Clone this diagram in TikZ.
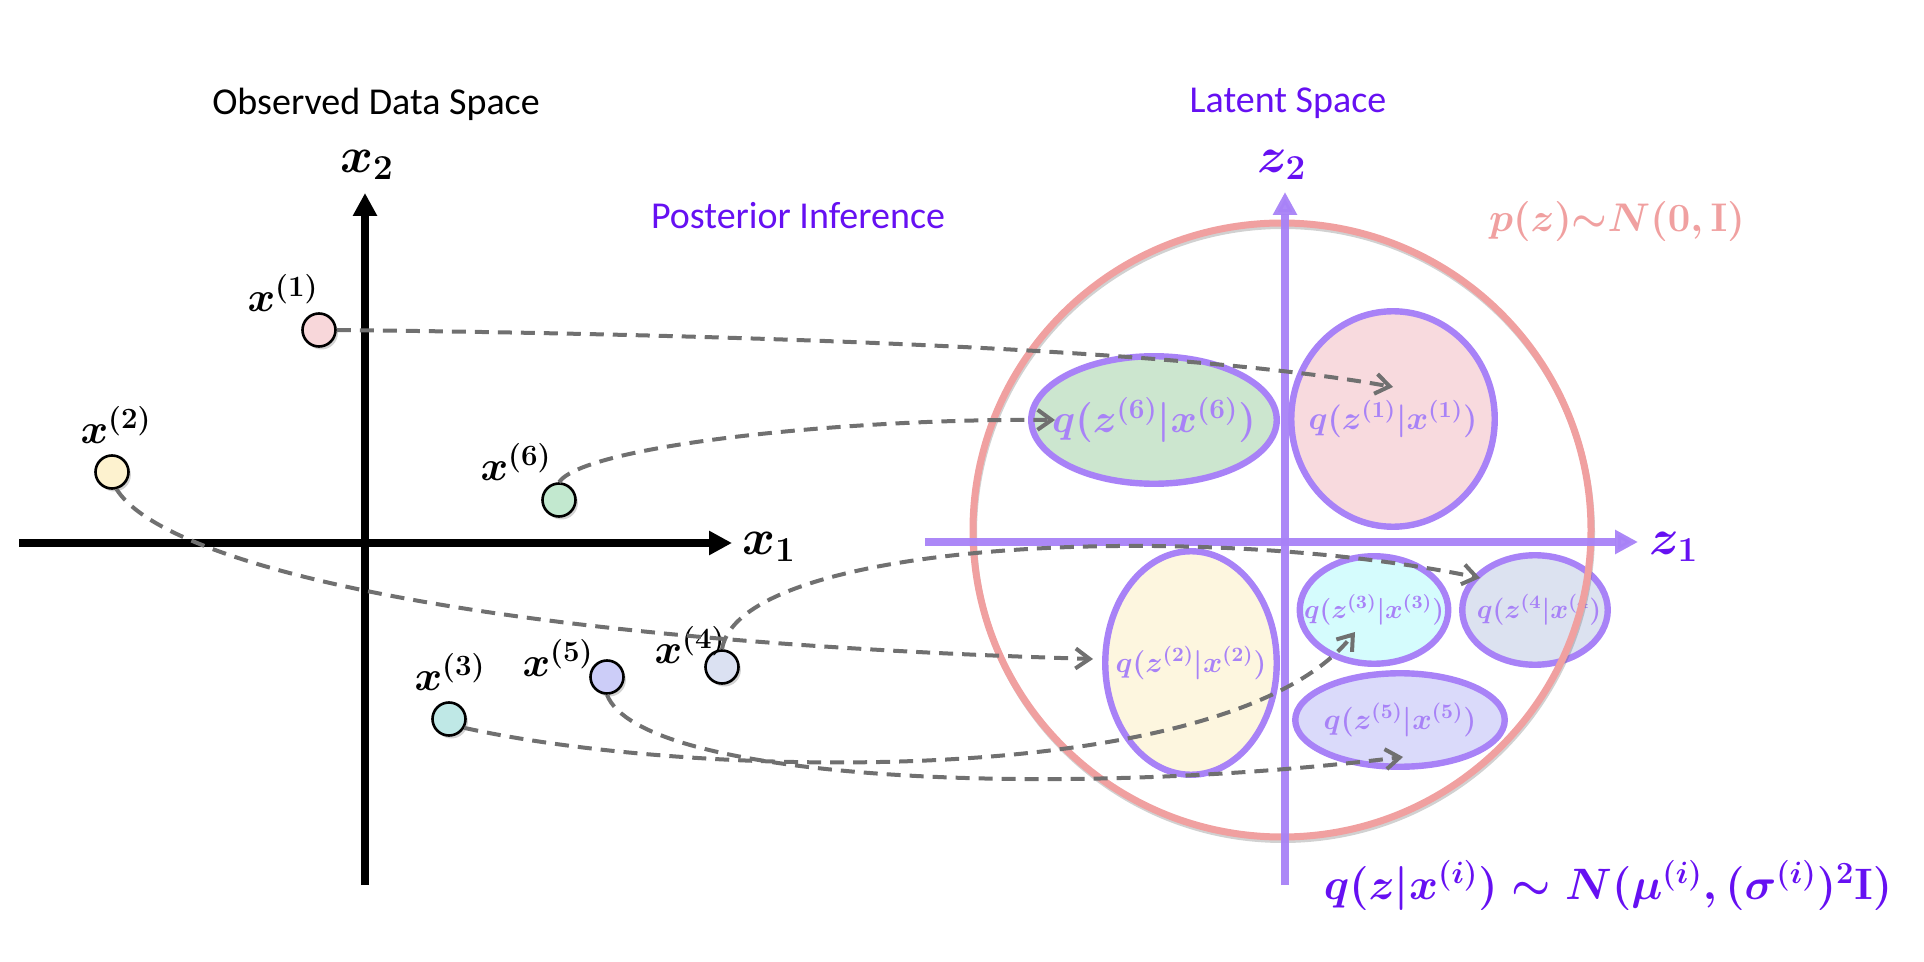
\RequirePackage{fix-cm}
\documentclass[tikz,border=0pt]{standalone}
\usepackage{fontspec}
\usepackage{bm}
\newfontfamily\capfont{Carlito}
\usetikzlibrary{arrows.meta,shapes.geometric,shadows}

\definecolor{latentviolet}{RGB}{102,16,242}
\definecolor{zaxis}{RGB}{168,130,247}
\definecolor{qedge}{RGB}{168,130,247}
\definecolor{prior}{RGB}{240,160,160}
\definecolor{flowgray}{RGB}{112,112,112}
\definecolor{xpink}{RGB}{248,215,218}
\definecolor{xyellow}{RGB}{253,242,207}
\definecolor{xgreen}{RGB}{194,232,207}
\definecolor{xcyan}{RGB}{191,232,230}
\definecolor{xlav}{RGB}{204,205,248}
\definecolor{xblue}{RGB}{219,225,242}
\definecolor{qgreen}{RGB}{204,230,207}
\definecolor{qpink}{RGB}{248,218,222}
\definecolor{qyellow}{RGB}{253,246,223}
\definecolor{qcyan}{RGB}{213,252,253}
\definecolor{qblue}{RGB}{220,226,240}
\definecolor{qlav}{RGB}{218,218,250}

\tikzset{
  axisline/.style={line width=4pt,-{Triangle[length=11.5pt,width=11.5pt]}},
  zline/.style={draw=zaxis,line width=3.75pt,-{Triangle[length=11.5pt,width=11.5pt]}},
  point/.style={circle,draw=black,line width=1.3pt,minimum size=16.5pt,inner sep=0pt,
    drop shadow={shadow xshift=1.2pt,shadow yshift=-1.5pt,opacity=.35}},
  ptlab/.style={font=\fontsize{21}{24}\selectfont\boldmath},
  axlab/.style={font=\fontsize{25}{28}\selectfont\boldmath},
  post/.style={ellipse,draw=qedge,line width=3.2pt,inner sep=0pt},
  flow/.style={draw=flowgray,line width=2pt,dash pattern=on 7pt off 4.5pt,
    -{Straight Barb[length=7pt,width=10pt]}},
  title/.style={font=\capfont\fontsize{19}{23}\selectfont}
}

\begin{document}
\begin{tikzpicture}[x=0.5pt,y=-0.5pt]

  \useasboundingbox (0,0) rectangle (1924,962);

  % observed data space
  \node[title,anchor=base] (obstitle) at (376,115) {Observed Data Space};
  \coordinate (x1o) at (19,543);
  \coordinate (x1t) at (732,543);
  \coordinate (x2o) at (365,885);
  \coordinate (x2t) at (365,193);
  \draw[axisline] (x1o) -- (x1t);
  \draw[axisline] (x2o) -- (x2t);
  \node[axlab] (x1lab) at (769,547) {$x_1$};
  \node[axlab] (x2lab) at (367,165) {$x_2$};

  \node[point,fill=xpink]   (p1) at (319,330) {};
  \node[point,fill=xyellow] (p2) at (112,472) {};
  \node[point,fill=xcyan]   (p3) at (449,719) {};
  \node[point,fill=xblue]   (p4) at (722,667) {};
  \node[point,fill=xlav]    (p5) at (607,677) {};
  \node[point,fill=xgreen]  (p6) at (559,500) {};

  \node[ptlab] (l1) at ([shift={(-36,-37)}]p1) {$x^{(1)}$};
  \node[ptlab] (l2) at ([shift={(4,-47)}]p2) {$x^{(2)}$};
  \node[ptlab] (l3) at ([shift={(1,-47)}]p3) {$x^{(3)}$};
  \node[ptlab] (l4) at ([shift={(-32,-22)}]p4) {$x^{(4)}$};
  \node[ptlab] (l5) at ([shift={(-49,-19)}]p5) {$x^{(5)}$};
  \node[ptlab] (l6) at ([shift={(-43,-38)}]p6) {$x^{(6)}$};

  \node[title,text=latentviolet,anchor=base] (inftitle) at (798,229) {Posterior Inference};

  % latent space
  \node[title,text=latentviolet,anchor=base] (lattitle) at (1288,113) {Latent Space};

  \node[post,fill=qgreen, minimum width=122.75pt,minimum height=63.75pt] (q6) at (1154,420) {};
  \node[post,fill=qpink,  minimum width=101.75pt,minimum height=107.75pt] (q1) at (1393,419) {};
  \node[post,fill=qyellow,minimum width=85.75pt, minimum height=111.75pt] (q2) at (1191,663) {};
  \node[post,fill=qcyan,  minimum width=74.25pt, minimum height=53.75pt] (q3) at (1374,610) {};
  \node[post,fill=qblue,  minimum width=72.75pt, minimum height=54.75pt] (q4) at (1535,610) {};
  \node[post,fill=qlav,   minimum width=104.75pt,minimum height=46.75pt] (q5) at (1400,720) {};

  \node[text=qedge,font=\fontsize{20}{24}\selectfont\boldmath] (q6txt) at (q6) {$q\bigl(z^{(6)}|x^{(6)}\bigr)$};
  \node[text=qedge,font=\fontsize{16.4}{20}\selectfont\boldmath] (q1txt) at (q1) {$q\bigl(z^{(1)}|x^{(1)}\bigr)$};
  \node[text=qedge,font=\fontsize{14.6}{18}\selectfont\boldmath] (q2txt) at (q2) {$q\bigl(z^{(2)}|x^{(2)}\bigr)$};
  \node[text=qedge,font=\fontsize{13.4}{16}\selectfont\boldmath] (q3txt) at (q3) {$q\bigl(z^{(3)}|x^{(3)}\bigr)$};
  \node[text=qedge,font=\fontsize{13.6}{16}\selectfont\boldmath] (q4txt) at ([xshift=2]q4) {$q\bigl(z^{(4}|x^{(4}\bigr)$};
  \node[text=qedge,font=\fontsize{14.8}{18}\selectfont\boldmath] (q5txt) at (q5) {$q\bigl(z^{(5)}|x^{(5)}\bigr)$};

  % prior circle with its shadow
  \draw[black!60,opacity=.3,line width=3pt] (1283,533) ellipse [x radius=309,y radius=307];
  \draw[prior,line width=3.5pt] (1282,530) ellipse [x radius=309,y radius=307];
  \node[text=prior,font=\fontsize{20}{24}\selectfont\boldmath] (priorlab) at (1617,222) {$p(z){\sim}N(0,\mathbf{I})$};

  \coordinate (z1o) at (925,542);
  \coordinate (z1t) at (1638,542);
  \coordinate (z2o) at (1285,885);
  \coordinate (z2t) at (1285,192);
  \draw[zline,opacity=.95] (z1o) -- (z1t);
  \draw[zline,opacity=.95] (z2o) -- (z2t);
  \node[axlab,text=latentviolet] (z1lab) at (1674,547) {$z_1$};
  \node[axlab,text=latentviolet] (z2lab) at (1282,165) {$z_2$};

  \node[text=latentviolet,font=\fontsize{22}{26}\selectfont\boldmath] (postlab) at (1608,885)
    {$q\bigl(z|x^{(i)}\bigr)\sim N(\mu^{(i)},(\sigma^{(i)})^2\mathbf{I})$};

  % inference arrows
  \coordinate (e1) at (1393,387);
  \coordinate (e2) at (1093,659);
  \coordinate (e3) at (1355,632);
  \coordinate (e4) at (1480,578);
  \coordinate (e5) at (1403,757);
  \coordinate (e6) at (1055,420);

  \draw[flow] (p1.east) .. controls (800,335) and (1200,352) .. (e1);
  \draw[flow] (p2.-75) .. controls (160,560) and (450,640) .. (e2);
  \draw[flow] (p3.-30) .. controls (700,780) and (1230,790) .. (e3);
  \draw[flow] (p4.north) .. controls (740,540) and (1200,520) .. (e4);
  \draw[flow] (p5.south) .. controls (640,780) and (1050,800) .. (e5);
  \draw[flow] (p6.north) .. controls (585,445) and (850,418) .. (e6);

\end{tikzpicture}
\end{document}
